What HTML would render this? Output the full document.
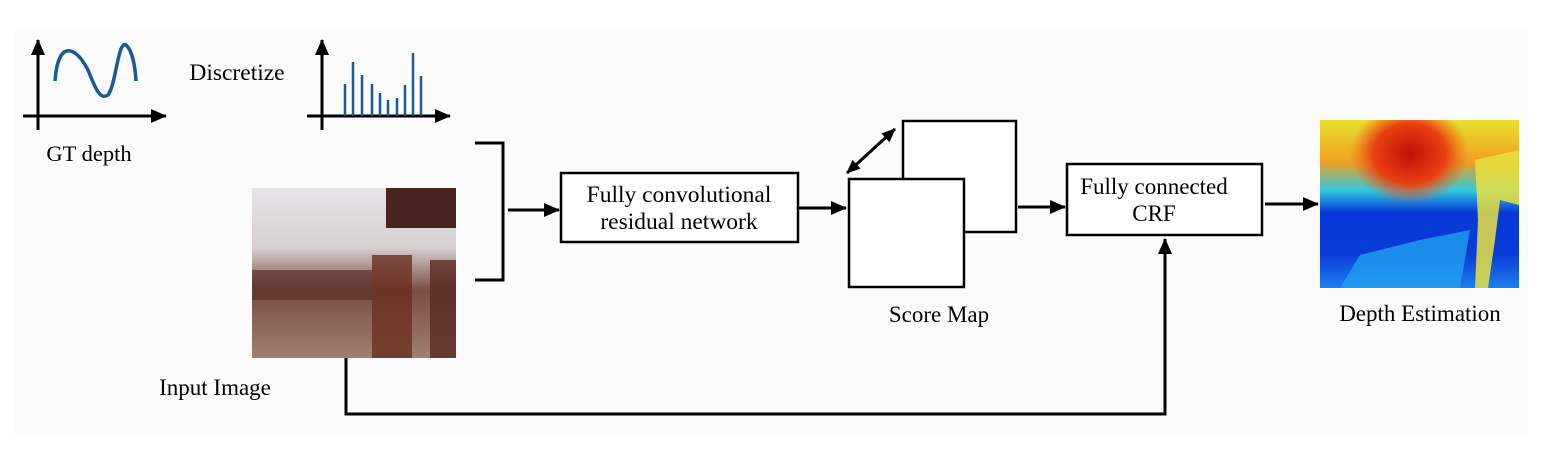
<!DOCTYPE html>
<html><head><meta charset="utf-8"><style>
html,body{margin:0;padding:0;background:#fff;width:1558px;height:451px;overflow:hidden}
text{font-family:"Liberation Serif",serif;fill:#000}
</style></head><body>
<svg width="1558" height="451" viewBox="0 0 1558 451" xmlns="http://www.w3.org/2000/svg">
<defs>
<marker id="a" markerWidth="14" markerHeight="12" refX="13" refY="6" orient="auto-start-reverse" markerUnits="userSpaceOnUse" viewBox="0 0 14 12"><path d="M0,0 L14,6 L0,12 z" fill="#000"/></marker>
<marker id="b" markerWidth="16" markerHeight="14" refX="15" refY="7" orient="auto-start-reverse" markerUnits="userSpaceOnUse" viewBox="0 0 16 14"><path d="M0,0 L16,7 L0,14 z" fill="#000"/></marker>
<linearGradient id="dv" x1="0" y1="0" x2="0" y2="1">
<stop offset="0" stop-color="#e8e030"/><stop offset="0.25" stop-color="#f0a020"/><stop offset="0.42" stop-color="#30c8e0"/><stop offset="0.55" stop-color="#0838d8"/><stop offset="0.8" stop-color="#0a3cd8"/><stop offset="1" stop-color="#1a80f0"/></linearGradient>
<radialGradient id="dr" cx="0.45" cy="0.2" r="0.3"><stop offset="0" stop-color="#c01008"/><stop offset="0.6" stop-color="#e84010"/><stop offset="1" stop-color="#f06010" stop-opacity="0"/></radialGradient>
<linearGradient id="iv" x1="0" y1="0" x2="0" y2="1">
<stop offset="0" stop-color="#e8e4e8"/><stop offset="0.35" stop-color="#d8d0d0"/><stop offset="0.6" stop-color="#7a4c44"/><stop offset="1" stop-color="#a08070"/></linearGradient>
</defs>
<rect x="15" y="30" width="1513" height="405" fill="#fbfbfb"/>
<line x1="38" y1="130" x2="38" y2="40" stroke="#000" stroke-width="3" marker-end="url(#b)"/>
<line x1="23" y1="116" x2="166" y2="116" stroke="#000" stroke-width="3" marker-end="url(#b)"/>
<path d="M55,81 C58,40 75,45 88,70 C96,90 100,100 108,95 C116,85 118,40 126,45 C132,50 135,65 136,81" fill="none" stroke="#1a5a98" stroke-width="3.5"/>
<text x="89" y="161" font-size="22.5" text-anchor="middle">GT depth</text>
<text x="237" y="80" font-size="23.5" text-anchor="middle">Discretize</text>
<line x1="322" y1="130" x2="322" y2="40" stroke="#000" stroke-width="3" marker-end="url(#b)"/>
<line x1="307" y1="116" x2="450" y2="116" stroke="#000" stroke-width="3" marker-end="url(#b)"/>
<g stroke="#1a5a98" stroke-width="2.5">
<line x1="345" y1="116" x2="345" y2="84"/><line x1="353" y1="116" x2="353" y2="62"/><line x1="362" y1="116" x2="362" y2="75"/><line x1="372" y1="116" x2="372" y2="84"/><line x1="380" y1="116" x2="380" y2="93"/><line x1="388" y1="116" x2="388" y2="100"/><line x1="397" y1="116" x2="397" y2="98"/><line x1="405" y1="116" x2="405" y2="85"/><line x1="413" y1="116" x2="413" y2="53"/><line x1="421" y1="116" x2="421" y2="76"/>
</g>
<path d="M475,143 H503 V280 H475" fill="none" stroke="#000" stroke-width="3"/>
<rect x="252" y="188" width="204" height="170" fill="url(#iv)"/>
<rect x="386" y="188" width="70" height="40" fill="#4a2420"/>
<rect x="252" y="270" width="120" height="30" fill="#5a3028" opacity="0.7"/>
<rect x="372" y="255" width="40" height="103" fill="#6a3020" opacity="0.8"/>
<rect x="430" y="260" width="26" height="98" fill="#5a2a20" opacity="0.8"/>
<text x="215" y="395" font-size="23" text-anchor="middle">Input Image</text>
<line x1="508" y1="210" x2="559" y2="210" stroke="#000" stroke-width="3" marker-end="url(#b)"/>
<rect x="561" y="173" width="237" height="69" fill="#fff" stroke="#000" stroke-width="2.5"/>
<text x="679" y="202" font-size="23.5" text-anchor="middle">Fully convolutional</text>
<text x="679" y="229" font-size="23.5" text-anchor="middle">residual network</text>
<line x1="798" y1="208" x2="846" y2="208" stroke="#000" stroke-width="3" marker-end="url(#b)"/>
<rect x="903" y="121" width="113" height="111" fill="#fff" stroke="#000" stroke-width="2.5"/>
<rect x="849" y="179" width="115" height="108" fill="#fff" stroke="#000" stroke-width="2.5"/>
<line x1="847" y1="173" x2="895" y2="129" stroke="#000" stroke-width="3" marker-start="url(#a)" marker-end="url(#a)"/>
<text x="939" y="322" font-size="23" text-anchor="middle">Score Map</text>
<line x1="1018" y1="207" x2="1065" y2="207" stroke="#000" stroke-width="3" marker-end="url(#b)"/>
<rect x="1067" y="164" width="195" height="71" fill="#fff" stroke="#000" stroke-width="2.5"/>
<text x="1154" y="194" font-size="23" text-anchor="middle">Fully connected</text>
<text x="1154" y="221" font-size="23" text-anchor="middle">CRF</text>
<line x1="1265" y1="204" x2="1318" y2="204" stroke="#000" stroke-width="3" marker-end="url(#b)"/>
<rect x="1320" y="120" width="199" height="168" fill="url(#dv)"/>
<rect x="1320" y="120" width="199" height="168" fill="url(#dr)"/>
<path d="M1475,160 L1519,150 L1519,205 L1500,200 L1495,240 L1488,288 L1475,288 L1478,220 Z" fill="#e8e040" opacity="0.85"/>
<path d="M1340,288 L1360,255 L1420,240 L1470,230 L1460,288 Z" fill="#20a0f0" opacity="0.8"/>
<text x="1420" y="321" font-size="23" text-anchor="middle">Depth Estimation</text>
<path d="M346,358 V414 H1165 V239" fill="none" stroke="#000" stroke-width="3" marker-end="url(#b)"/>
</svg>
</body></html>
